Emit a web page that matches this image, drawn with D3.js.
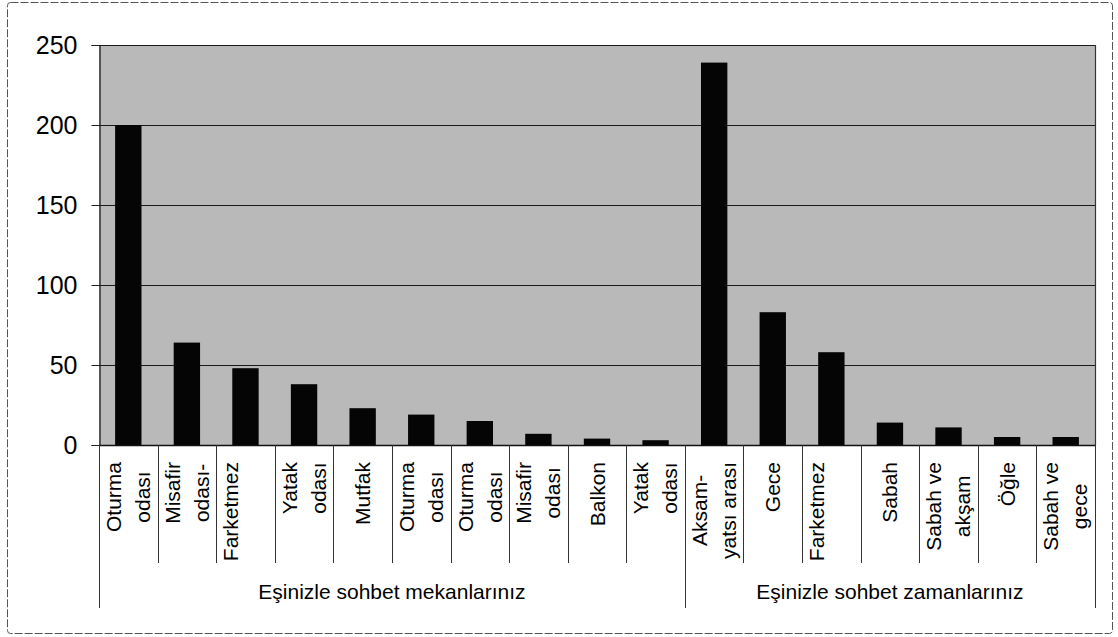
<!DOCTYPE html>
<html>
<head>
<meta charset="utf-8">
<script src="https://cdn.jsdelivr.net/npm/d3@7/dist/d3.min.js"></script>
<style>
  html, body { margin: 0; padding: 0; background: #fff; }
  svg { display: block; font-family: "Liberation Sans", Arial, sans-serif; }
</style>
</head>
<body>
<svg id="chart" width="1118" height="637"></svg>
<script>
// Category labels ("\n" marks a wrapped line)
const categories = [
  "Oturma\nodası", "Misafir\nodası-", "Farketmez\n", "Yatak\nodası", "Mutfak",
  "Oturma\nodası", "Oturma\nodası", "Misafir\nodası", "Balkon", "Yatak\nodası",
  "Aksam-\nyatsı arası", "Gece", "Farketmez\n", "Sabah", "Sabah ve\nakşam",
  "Öğle", "Sabah ve\ngece"
];
// Counts per category
const values = [200, 64, 48, 38, 23, 19, 15, 7, 4, 3, 239, 83, 58, 14, 11, 5, 5];
// Outer group labels and how many categories each spans
const groups = ["Eşinizle sohbet mekanlarınız", "Eşinizle sohbet zamanlarınız"];
const groupSizes = [10, 7];
const yTicks = [0, 50, 100, 150, 200, 250];

const svg = d3.select("#chart");
const plotLeft = 99, plotRight = 1095, plotTop = 45, plotBottom = 445;

const x = d3.scaleBand()
  .domain(d3.range(categories.length))
  .range([plotLeft, plotRight])
  .paddingInner(0.55)
  .paddingOuter(0.275);
const step = x.step();

const y = d3.scaleLinear().domain([0, 250]).range([plotBottom, plotTop]);

// Outer frame
svg.append("rect")
  .attr("x", 7.5).attr("y", 2.5)
  .attr("width", 1105).attr("height", 631)
  .attr("rx", 3)
  .attr("fill", "none")
  .attr("stroke", "#555")
  .attr("stroke-width", 1)
  .attr("stroke-dasharray", "8,2");

// Plot background
svg.append("rect")
  .attr("x", plotLeft).attr("y", plotTop)
  .attr("width", plotRight - plotLeft).attr("height", plotBottom - plotTop)
  .attr("fill", "#b9b9b9");

// Gridlines
svg.append("g")
  .selectAll("line")
  .data(yTicks.filter(d => d > 0))
  .join("line")
  .attr("x1", plotLeft).attr("x2", plotRight)
  .attr("y1", d => Math.round(y(d)) + 0.5)
  .attr("y2", d => Math.round(y(d)) + 0.5)
  .attr("stroke", "#1a1a1a")
  .attr("stroke-width", 1.2);

// Right edge of the plot area
svg.append("line")
  .attr("x1", plotRight + 0.5).attr("x2", plotRight + 0.5)
  .attr("y1", plotTop).attr("y2", plotBottom)
  .attr("stroke", "#333").attr("stroke-width", 1.2);

// Bars
svg.append("g")
  .selectAll("rect")
  .data(values)
  .join("rect")
  .attr("x", (d, i) => x(i))
  .attr("width", x.bandwidth())
  .attr("y", d => y(d))
  .attr("height", d => y(0) - y(d))
  .attr("fill", "#050505");

// Y axis
const yAxis = d3.axisLeft(y)
  .tickValues(yTicks)
  .tickSize(8)
  .tickPadding(14)
  .tickFormat(d3.format("d"));
const yg = svg.append("g")
  .attr("transform", `translate(${plotLeft + 0.5},0)`)
  .call(yAxis);
yg.select(".domain").attr("stroke", "#111").attr("stroke-width", 1.2);
yg.selectAll(".tick line").attr("stroke", "#222");
yg.selectAll(".tick text")
  .attr("fill", "#000")
  .style("font-size", "25px")
  .style("font-family", "'Liberation Sans', Arial, sans-serif");

// X baseline
svg.append("line")
  .attr("x1", plotLeft).attr("x2", plotRight)
  .attr("y1", plotBottom + 0.5).attr("y2", plotBottom + 0.5)
  .attr("stroke", "#111").attr("stroke-width", 1.4);

// Column dividers: short inside a group, long at group edges
const groupEdges = [0];
groupSizes.forEach((n, i) => groupEdges.push(groupEdges[i] + n));
const boundaries = d3.range(categories.length + 1);
svg.append("g")
  .selectAll("line")
  .data(boundaries)
  .join("line")
  .attr("x1", i => Math.round(plotLeft + i * step) + 0.5)
  .attr("x2", i => Math.round(plotLeft + i * step) + 0.5)
  .attr("y1", plotBottom)
  .attr("y2", i => groupEdges.includes(i) ? 608 : 563)
  .attr("stroke", "#333")
  .attr("stroke-width", 1);

// Rotated category labels
const labelTop = 462;
const catG = svg.append("g")
  .style("font-size", "21px")
  .attr("fill", "#000");
categories.forEach((label, i) => {
  const lines = label.split("\n");
  const colLeft = plotLeft + i * step;
  const g = catG.append("g");
  const texts = lines.map((ln, j) => {
    const xPos = lines.length === 1 ? colLeft + step / 2 + 7.5 : colLeft + 22 + j * 29;
    return g.append("text").text(ln).attr("data-x", xPos);
  });
  const maxW = d3.max(texts, t => t.node().getComputedTextLength());
  texts.forEach(t => {
    const xPos = +t.attr("data-x");
    t.attr("text-anchor", "middle")
      .attr("transform", `translate(${xPos},${labelTop + maxW / 2}) rotate(-90)`)
      .attr("data-x", null);
  });
});

// Group labels
let start = 0;
groups.forEach((g, i) => {
  const cx = plotLeft + (start + groupSizes[i] / 2) * step;
  svg.append("text")
    .attr("x", cx).attr("y", 599)
    .attr("text-anchor", "middle")
    .style("font-size", "21px")
    .attr("fill", "#000")
    .text(g);
  start += groupSizes[i];
});
</script>
</body>
</html>
